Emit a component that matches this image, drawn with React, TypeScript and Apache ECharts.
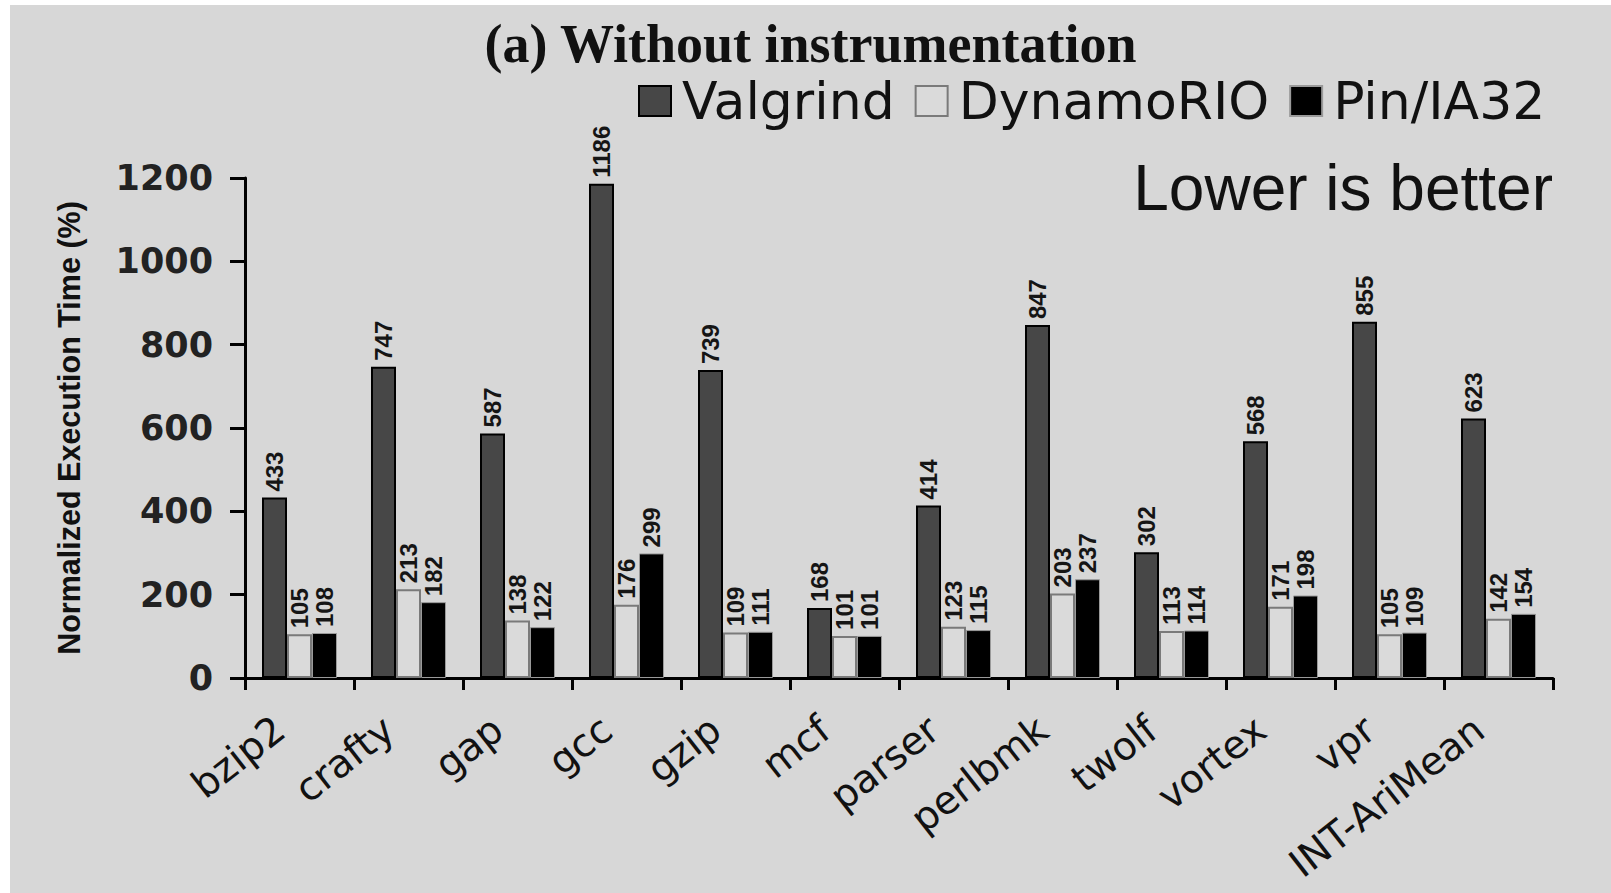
import React, { useEffect, useRef } from "react";
import * as echarts from "echarts";

const categories = ["bzip2", "crafty", "gap", "gcc", "gzip", "mcf", "parser", "perlbmk", "twolf", "vortex", "vpr", "INT-AriMean"];
const valgrind = [433, 747, 587, 1186, 739, 168, 414, 847, 302, 568, 855, 623];
const dynamoRIO = [105, 213, 138, 176, 109, 101, 123, 203, 113, 171, 105, 142];
const pinIA32 = [108, 182, 122, 299, 111, 101, 115, 237, 114, 198, 109, 154];
const seriesNames = ["Valgrind", "DynamoRIO", "Pin/IA32"];
const titleText = "(a) Without instrumentation";
const noteText = "Lower is better";
const yAxisName = "Normalized Execution Time (%)";

const BG = "#d7d7d7";

export default function App() {
  const ref = useRef<HTMLDivElement>(null);
  useEffect(() => {
    if (!ref.current) return;
    const chart = echarts.init(ref.current, null, { renderer: "svg" });
    const valueLabel = {
      show: true,
      position: "top",
      rotate: 90,
      align: "left",
      verticalAlign: "middle",
      distance: 6,
      fontFamily: "'Liberation Sans', Arial, sans-serif",
      fontWeight: "bold",
      fontSize: 24,
      color: "#151515",
    };
    chart.setOption({
      animation: false,
      backgroundColor: BG,
      title: {
        text: titleText,
        left: "center",
        top: 12,
        padding: 0,
        textStyle: {
          fontFamily: "'Liberation Serif', 'Times New Roman', serif",
          fontWeight: "bold",
          fontSize: 54,
          color: "#111",
        },
      },
      legend: {
        left: 623,
        top: 65,
        itemWidth: 32,
        itemHeight: 30,
        itemGap: 20,
        icon: "rect",
        textStyle: {
          fontFamily: "'DejaVu Sans', sans-serif",
          fontSize: 52,
          color: "#111",
          padding: [0, 0, 0, 6],
        },
        data: seriesNames,
      },
      grid: { left: 235, right: 58, top: 173, bottom: 215, containLabel: false },
      xAxis: {
        type: "category",
        data: categories,
        axisLine: { lineStyle: { color: "#000", width: 3 } },
        axisTick: { show: true, length: 12, lineStyle: { color: "#000", width: 3 } },
        axisLabel: {
          interval: 0,
          rotate: 38,
          margin: 31,
          padding: [0, 25, 0, 0],
          fontFamily: "'DejaVu Sans', sans-serif",
          fontSize: 39,
          color: "#111",
        },
      },
      yAxis: {
        type: "value",
        min: 0,
        max: 1200,
        interval: 200,
        name: yAxisName,
        nameLocation: "middle",
        nameGap: 161,
        nameRotate: 90,
        nameTextStyle: {
          fontFamily: "'Liberation Sans', Arial, sans-serif",
          fontWeight: "bold",
          fontSize: 30.5,
          color: "#111",
        },
        axisLine: { show: true, lineStyle: { color: "#000", width: 3 } },
        axisTick: { show: true, length: 15, lineStyle: { color: "#000", width: 3 } },
        splitLine: { show: false },
        axisLabel: {
          margin: 32,
          formatter: (v: number) => String(v),
          fontFamily: "'DejaVu Sans', sans-serif",
          fontWeight: "bold",
          fontSize: 35,
          color: "#222",
        },
      },
      graphic: [
        {
          type: "text",
          right: 58,
          top: 151,
          style: {
            text: noteText,
            fontFamily: "'Liberation Sans', Arial, sans-serif",
            fontSize: 64,
            fill: "#111",
          },
        },
      ],
      series: [
        {
          name: seriesNames[0],
          type: "bar",
          data: valgrind,
          barWidth: 25,
          barGap: "0%",
          itemStyle: { color: "#474747", borderColor: "#000", borderWidth: 2 },
          label: valueLabel,
        },
        {
          name: seriesNames[1],
          type: "bar",
          data: dynamoRIO,
          barWidth: 25,
          barGap: "0%",
          itemStyle: { color: "#dadada", borderColor: "#7a7a7a", borderWidth: 2 },
          label: valueLabel,
        },
        {
          name: seriesNames[2],
          type: "bar",
          data: pinIA32,
          barWidth: 25,
          barGap: "0%",
          itemStyle: { color: "#000", borderColor: "#9a9a9a", borderWidth: 1 },
          label: valueLabel,
        },
      ],
    });
    return () => chart.dispose();
  }, []);
  return (
    <div style={{ position: "fixed", left: 0, top: 0, width: 1611, height: 893, background: "#fff" }}>
      <div ref={ref} style={{ position: "absolute", left: 10, top: 5, width: 1601, height: 888 }} />
    </div>
  );
}
